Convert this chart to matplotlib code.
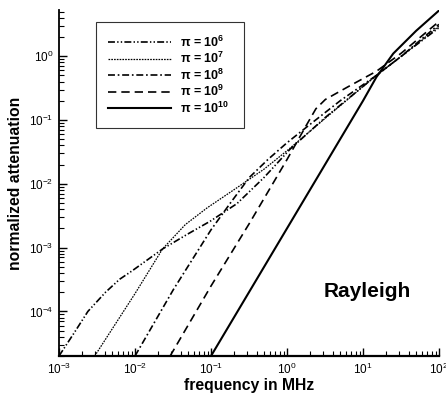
import matplotlib
matplotlib.use("Agg")
import matplotlib.pyplot as plt
from matplotlib.ticker import LogLocator, NullFormatter

plt.rcParams['font.family'] = ['Liberation Sans', 'DejaVu Sans']
plt.rcParams['mathtext.fontset'] = 'custom'
plt.rcParams['mathtext.rm'] = 'Liberation Sans'
plt.rcParams['mathtext.bf'] = 'Liberation Sans:bold'
plt.rcParams['lines.scale_dashes'] = False

# frequency (MHz) and normalized attenuation
f_1e6 = [1.0e-3, 1.6e-3, 2.4e-3, 4.1e-3, 6.3e-3, 9.1e-3, 2.3e-2, 4.8e-2, 9.8e-2, 0.22, 0.5, 1.1, 3.2, 15, 32, 100]
a_1e6 = [2.0e-5, 4.7e-5, 1.0e-4, 2.0e-4, 3.2e-4, 4.3e-4, 9.5e-4, 1.6e-3, 2.6e-3, 4.9e-3, 1.26e-2, 3.5e-2, 0.11, 0.5, 1.0, 2.8]

f_1e7 = [2.95e-3, 1.0e-2, 2.3e-2, 4.6e-2, 8.9e-2, 0.22, 0.5, 1.0, 3.2, 15, 32, 100]
a_1e7 = [2.0e-5, 1.9e-4, 9.5e-4, 2.3e-3, 4.2e-3, 8.7e-3, 1.7e-2, 3.3e-2, 0.107, 0.5, 1.0, 2.95]

f_1e8 = [1.0e-2, 3.2e-2, 0.1, 0.18, 0.32, 0.56, 1.0, 2.0, 5.0, 15, 32, 100]
a_1e8 = [2.0e-5, 2.2e-4, 1.9e-3, 5.0e-3, 1.26e-2, 2.4e-2, 4.4e-2, 8.5e-2, 0.2, 0.5, 1.0, 3.16]

f_1e9 = [2.9e-2, 0.1, 0.32, 1.0, 1.8, 2.4, 3.2, 6.3, 15, 32, 100]
a_1e9 = [2.0e-5, 2.5e-4, 2.4e-3, 2.4e-2, 8.3e-2, 0.15, 0.21, 0.33, 0.58, 1.12, 3.5]

f_1e10 = [0.1, 1.0, 10, 15, 25, 50, 100]
a_1e10 = [2.0e-5, 2.0e-3, 0.2, 0.47, 1.1, 2.5, 5.2]

labels = [r'π = 10$^{\mathbf{6}}$', r'π = 10$^{\mathbf{7}}$', r'π = 10$^{\mathbf{8}}$',
          r'π = 10$^{\mathbf{9}}$', r'π = 10$^{\mathbf{10}}$']

fig = plt.figure(figsize=(4.46, 3.94), dpi=100)
ax = fig.add_axes([59 / 446, 1 - 356 / 394, 380 / 446, 346 / 394])

ax.plot(f_1e6, a_1e6, color='black', lw=1.2, dashes=(5, 1.6, 1, 1.6, 1, 1.6), label=labels[0])
ax.plot(f_1e7, a_1e7, color='black', lw=0.9, dashes=(1.2, 0.8), label=labels[1])
ax.plot(f_1e8, a_1e8, color='black', lw=1.2, dashes=(5, 2, 1.2, 2), label=labels[2])
ax.plot(f_1e9, a_1e9, color='black', lw=1.2, dashes=(6, 3.6), label=labels[3])
ax.plot(f_1e10, a_1e10, color='black', lw=1.5, label=labels[4])

ax.set_xscale('log')
ax.set_yscale('log')
ax.set_xlim(1e-3, 1e2)
ax.set_ylim(2e-5, 5.3)

ax.xaxis.set_major_locator(LogLocator(base=10, numticks=10))
ax.yaxis.set_major_locator(LogLocator(base=10, numticks=10))
ax.xaxis.set_minor_locator(LogLocator(base=10, subs=range(2, 10), numticks=20))
ax.yaxis.set_minor_locator(LogLocator(base=10, subs=range(2, 10), numticks=20))
ax.xaxis.set_minor_formatter(NullFormatter())
ax.yaxis.set_minor_formatter(NullFormatter())

ax.spines['top'].set_visible(False)
ax.spines['right'].set_visible(False)
ax.spines['bottom'].set_linewidth(1.6)
ax.spines['left'].set_linewidth(1.3)
ax.tick_params(which='major', direction='in', length=6, width=1.0, labelsize=8.5, pad=4)
ax.tick_params(which='minor', direction='in', length=3.5, width=0.8)

ax.set_xlabel('frequency in MHz', fontsize=11.3, fontweight='bold', labelpad=1)
ax.set_ylabel('normalized attenuation', fontsize=11.3, fontweight='bold', labelpad=4)

ax.text(0.81, 0.185, 'Rayleigh', transform=ax.transAxes, fontsize=15, fontweight='bold', ha='center', va='center')

leg = ax.legend(loc='upper left', bbox_to_anchor=(0.097, 0.665, 0.39, 0.3), mode='expand',
                borderaxespad=0, fancybox=False, frameon=True, handlelength=5, handletextpad=0.7,
                labelspacing=0.1, borderpad=1.0, prop={'weight': 'bold', 'size': 9})
leg.get_frame().set_edgecolor('black')
leg.get_frame().set_linewidth(0.8)

fig.savefig('out.png', dpi=100)
